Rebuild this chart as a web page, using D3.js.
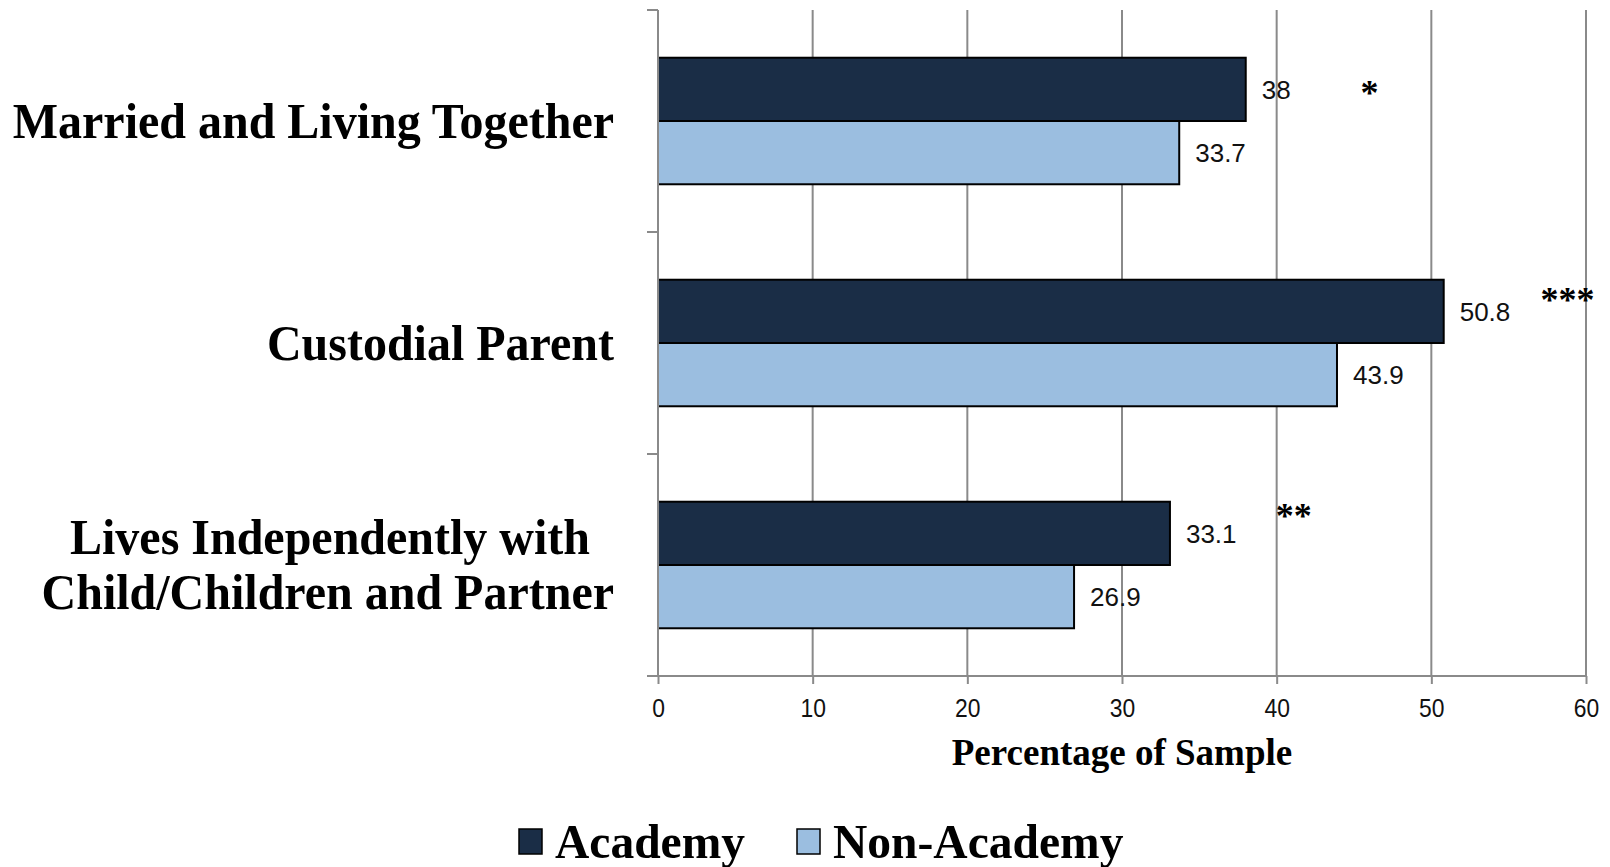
<!DOCTYPE html>
<html>
<head>
<meta charset="utf-8">
<script src="https://cdn.jsdelivr.net/npm/d3@7"></script>
<style>
  body { margin: 0; background: #fff; }
  svg { display: block; }
</style>
</head>
<body>
<svg id="chart"></svg>
<script>
// data
const categories = [
  ["Married and Living Together"],
  ["Custodial Parent"],
  ["Lives Independently with", "Child/Children and Partner"]
];
const seriesNames = ["Academy", "Non-Academy"];
const academy = [38, 50.8, 33.1];
const nonAcademy = [33.7, 43.9, 26.9];
const significance = ["*", "***", "**"];
const xTicks = [0, 10, 20, 30, 40, 50, 60];

// layout only: how far below the top of the academy bar each star row sits
const starDrop = [33, 18, 12];

const width = 1610, height = 867;
const colors = ["#1a2d46", "#9bbee0"];
const serif = "Liberation Serif, Times New Roman, serif";
const sans = "Liberation Sans, Arial, sans-serif";

const svg = d3.select("#chart").attr("width", width).attr("height", height);

const margin = { top: 10, left: 658, right: 24, bottom: 191 };
const innerW = width - margin.left - margin.right;
const innerH = height - margin.top - margin.bottom;

const g = svg.append("g").attr("transform", `translate(${margin.left},${margin.top})`);

const x = d3.scaleLinear().domain([0, 60]).range([0, innerW]);
const y = d3.scaleBand().domain(d3.range(categories.length)).range([0, innerH]).paddingInner(0.43).paddingOuter(0.215);
const ySub = d3.scaleBand().domain([0, 1]).range([0, y.bandwidth()]);

// gridlines
g.append("g")
  .selectAll("line")
  .data(xTicks.slice(1))
  .enter()
  .append("line")
  .attr("x1", d => x(d)).attr("x2", d => x(d))
  .attr("y1", 0).attr("y2", innerH)
  .attr("stroke", "#8a8a8a").attr("stroke-width", 2);

// bars
const rows = categories.map((c, i) => ({ i, vals: [academy[i], nonAcademy[i]] }));
const grp = g.selectAll(".grp").data(rows).enter().append("g")
  .attr("transform", d => `translate(0,${y(d.i)})`);

grp.selectAll("rect")
  .data(d => d.vals.map((v, k) => ({ v, k })))
  .enter()
  .append("rect")
  .attr("x", 0)
  .attr("y", d => ySub(d.k))
  .attr("width", d => x(d.v))
  .attr("height", ySub.bandwidth())
  .attr("fill", d => colors[d.k])
  .attr("stroke", "#000")
  .attr("stroke-width", 2);

// value labels
grp.selectAll(".val")
  .data(d => d.vals.map((v, k) => ({ v, k })))
  .enter()
  .append("text")
  .attr("x", d => x(d.v) + 16)
  .attr("y", d => ySub(d.k) + ySub.bandwidth() / 2)
  .attr("dy", "0.36em")
  .attr("font-family", sans)
  .attr("font-size", 26)
  .attr("fill", "#111")
  .text(d => d.v);

// significance stars
grp.append("text")
  .attr("x", d => x(academy[d.i] + 8))
  .attr("y", d => ySub(0) + starDrop[d.i] + 14)
  .attr("text-anchor", "middle")
  .attr("font-family", serif)
  .attr("font-weight", "bold")
  .attr("font-size", 36)
  .text(d => significance[d.i]);

// y axis line and tick marks
g.append("line")
  .attr("x1", 0).attr("x2", 0).attr("y1", 0).attr("y2", innerH)
  .attr("stroke", "#8a8a8a").attr("stroke-width", 2);
const step = y.step();
g.append("g")
  .selectAll("line")
  .data(d3.range(categories.length))
  .enter()
  .append("line")
  .attr("x1", -11).attr("x2", 0)
  .attr("y1", d => y(d) - y.paddingOuter() * step)
  .attr("y2", d => y(d) - y.paddingOuter() * step)
  .attr("stroke", "#8a8a8a").attr("stroke-width", 2);

// x axis
const xAxis = g.append("g")
  .attr("transform", `translate(0,${innerH})`)
  .call(d3.axisBottom(x).tickValues(xTicks).tickSize(8).tickPadding(15));
xAxis.select(".domain").remove();
xAxis.append("line").attr("x1", -11).attr("x2", innerW).attr("stroke", "#8a8a8a").attr("stroke-width", 2);
xAxis.selectAll(".tick line").attr("stroke", "#8a8a8a").attr("stroke-width", 2);
xAxis.selectAll(".tick text")
  .attr("font-family", sans)
  .attr("font-size", 26)
  .attr("fill", "#111")
  .attr("transform", "scale(0.88,1)");

// axis title
svg.append("text")
  .attr("x", margin.left + innerW / 2)
  .attr("y", 765)
  .attr("text-anchor", "middle")
  .attr("font-family", serif)
  .attr("font-weight", "bold")
  .attr("font-size", 37)
  .text("Percentage of Sample");

// category labels
const catLabels = svg.append("g");
categories.forEach((lines, i) => {
  const cy = margin.top + y(i) + y.bandwidth() / 2;
  const lh = 55;
  lines.forEach((ln, j) => {
    const tx = j === 0 && lines.length > 1 ? 590 : 614;
    const ty = cy + (j - (lines.length - 1) / 2) * lh;
    catLabels.append("text")
      .attr("transform", `translate(${tx},${ty}) scale(0.96,1)`)
      .attr("dy", "0.33em")
      .attr("text-anchor", "end")
      .attr("font-family", serif)
      .attr("font-weight", "bold")
      .attr("font-size", 50)
      .text(ln);
  });
});

// legend
const legend = svg.append("g").attr("transform", "translate(519,0)");
const legendX = [0, 278];
seriesNames.forEach((name, k) => {
  const row = legend.append("g").attr("transform", `translate(${legendX[k]},0)`);
  row.append("rect")
    .attr("x", 0).attr("y", 829)
    .attr("width", 23).attr("height", 25)
    .attr("fill", colors[k])
    .attr("stroke", "#000").attr("stroke-width", 1.5);
  row.append("text")
    .attr("transform", "translate(36,858) scale(0.97,1)")
    .attr("font-family", serif)
    .attr("font-weight", "bold")
    .attr("font-size", 49)
    .text(name);
});
</script>
</body>
</html>
